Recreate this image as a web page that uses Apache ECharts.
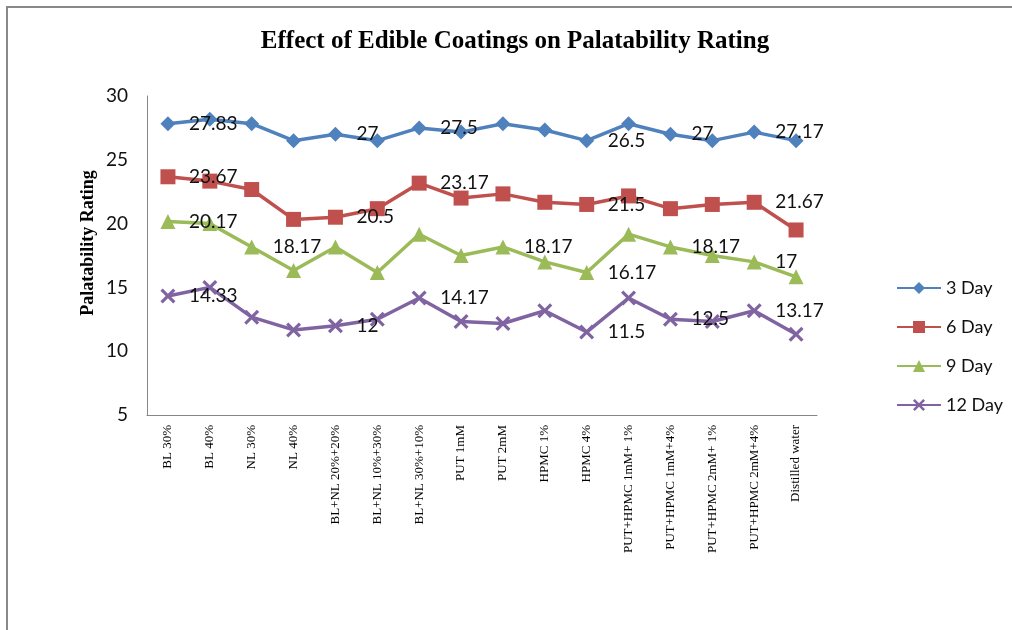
<!DOCTYPE html>
<html>
<head>
<meta charset="utf-8">
<script src="https://cdn.jsdelivr.net/npm/echarts@6/dist/echarts.min.js"></script>
<style>
  html, body { margin: 0; padding: 0; background: #fff; }
  #chart { width: 1012px; height: 630px; }
</style>
</head>
<body>
<div id="chart"></div>
<script>
// categories on the x axis
const categories = [
  'BL 30%', 'BL 40%', 'NL 30%', 'NL 40%',
  'BL+NL 20%+20%', 'BL+NL 10%+30%', 'BL+NL 30%+10%',
  'PUT 1mM', 'PUT 2mM', 'HPMC 1%', 'HPMC 4%',
  'PUT+HPMC 1mM+ 1%', 'PUT+HPMC 1mM+4%', 'PUT+HPMC 2mM+ 1%', 'PUT+HPMC 2mM+4%',
  'Distilled water'
];

// palatability rating per storage day
const day3 = [27.83, 28.17, 27.83, 26.5, 27, 26.5, 27.5, 27.17, 27.83, 27.33, 26.5, 27.83, 27, 26.5, 27.17, 26.5];
const day6 = [23.67, 23.33, 22.67, 20.33, 20.5, 21.17, 23.17, 22, 22.33, 21.67, 21.5, 22.17, 21.17, 21.5, 21.67, 19.5];
const day9 = [20.17, 20, 18.17, 16.33, 18.17, 16.17, 19.17, 17.5, 18.17, 17, 16.17, 19.17, 18.17, 17.5, 17, 15.83];
const day12 = [14.33, 15, 12.67, 11.67, 12, 12.5, 14.17, 12.33, 12.17, 13.17, 11.5, 14.17, 12.5, 12.33, 13.17, 11.33];

// which points carry a value label
const labeled3 = [0, 4, 6, 10, 12, 14];
const labeled6 = [0, 4, 6, 10, 14];
const labeled9 = [0, 2, 8, 10, 12, 14];
const labeled12 = [0, 4, 6, 10, 12, 14];

const colors = ['#4F81BD', '#C0504D', '#9BBB59', '#8064A2'];
const crossPath = 'path://M0,1.5L1.5,0L5,3.5L8.5,0L10,1.5L6.5,5L10,8.5L8.5,10L5,6.5L1.5,10L0,8.5L3.5,5Z';

const withLabels = (values, shown) => values.map((v, i) => ({
  value: v,
  label: { show: shown.indexOf(i) >= 0 }
}));

const makeSeries = (name, values, shown, symbol, size) => ({
  name: name,
  type: 'line',
  data: withLabels(values, shown),
  symbol: symbol,
  symbolSize: size,
  lineStyle: { width: 3.5 },
  label: {
    position: 'right',
    distance: 21 - size / 2,
    color: '#111',
    fontFamily: 'Lato',
    fontSize: 19,
    formatter: p => String(p.value)
  },
  emphasis: { disabled: true },
  z: 2
});

const chart = echarts.init(document.getElementById('chart'));

const option = {
  animation: false,
  color: colors,
  title: {
    text: 'Effect of Edible Coatings on Palatability Rating',
    left: 510,
    textAlign: 'center',
    top: 24,
    textStyle: {
      fontFamily: 'Liberation Serif',
      fontWeight: 'bold',
      fontSize: 25,
      color: '#000'
    }
  },
  legend: {
    orient: 'vertical',
    left: 891,
    top: 273,
    itemWidth: 44,
    itemHeight: 15,
    itemGap: 19,
    textStyle: { fontFamily: 'Lato', fontSize: 18, color: '#111', lineHeight: 20 },
    data: ['3 Day', '6 Day', '9 Day', '12 Day']
  },
  grid: {
    left: 147,
    right: 195,
    top: 96,
    bottom: 215
  },
  xAxis: {
    type: 'category',
    data: categories,
    boundaryGap: true,
    axisLine: { lineStyle: { color: '#868686', width: 1 } },
    axisTick: { show: false },
    axisLabel: {
      interval: 0,
      rotate: 90,
      margin: 10,
      fontFamily: 'Liberation Serif',
      fontSize: 13,
      color: '#000'
    }
  },
  yAxis: {
    type: 'value',
    min: 5,
    max: 30,
    interval: 5,
    axisLine: { show: true, lineStyle: { color: '#868686', width: 1 } },
    axisTick: { show: false },
    splitLine: { show: false },
    axisLabel: {
      margin: 19,
      fontFamily: 'Lato',
      fontSize: 19,
      color: '#111'
    }
  },
  graphic: [
    {
      type: 'rect',
      shape: { x: 7, y: 7, width: 1100, height: 1000 },
      style: { fill: 'none', stroke: '#888', lineWidth: 2 },
      silent: true
    },
    {
      type: 'text',
      x: 88,
      y: 243,
      rotation: Math.PI / 2,
      style: {
        text: 'Palatability Rating',
        fontFamily: 'Liberation Serif',
        fontWeight: 'bold',
        fontSize: 18,
        fill: '#000',
        textAlign: 'center',
        textVerticalAlign: 'middle'
      }
    }
  ],
  series: [
    makeSeries('3 Day', day3, labeled3, 'diamond', 15),
    makeSeries('6 Day', day6, labeled6, 'rect', 15),
    makeSeries('9 Day', day9, labeled9, 'triangle', 15),
    makeSeries('12 Day', day12, labeled12, crossPath, 15)
  ]
};

chart.setOption(option);
</script>
</body>
</html>
